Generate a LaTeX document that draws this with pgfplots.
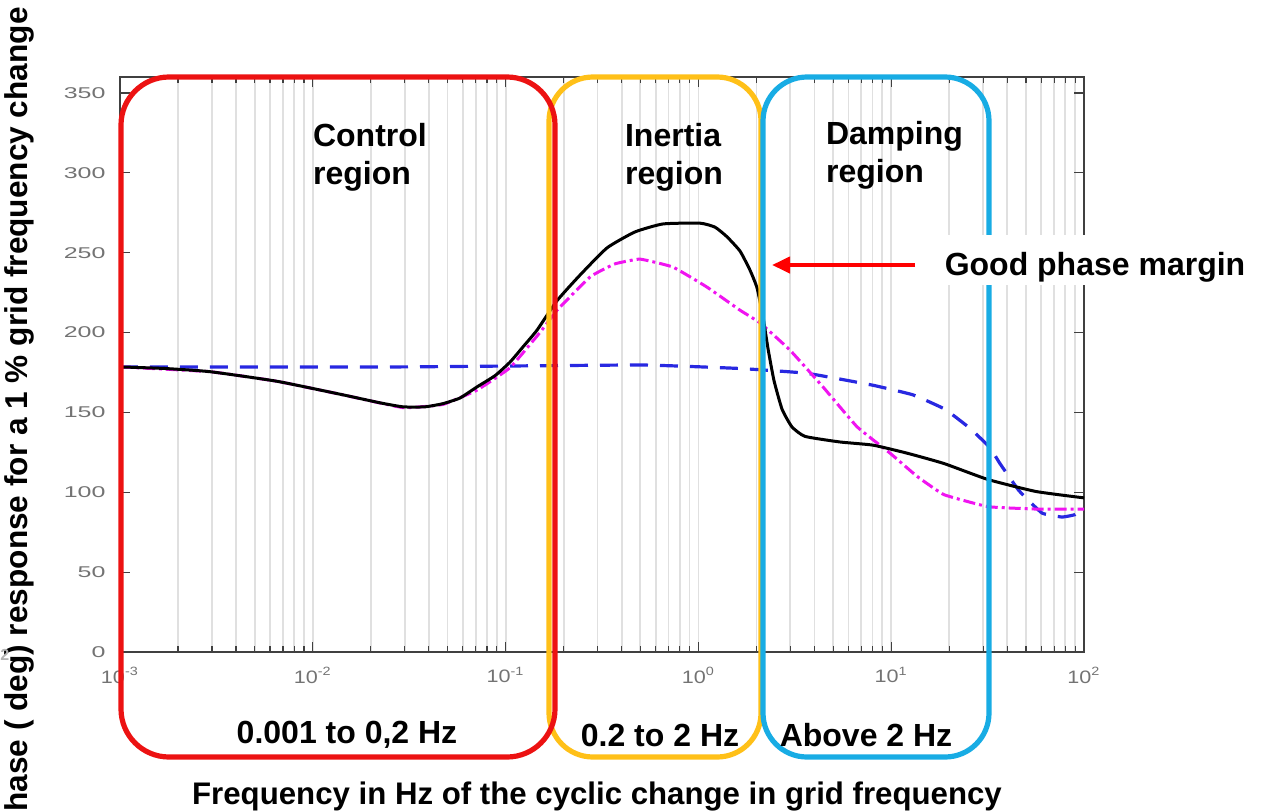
\documentclass[border=0pt]{standalone}
\usepackage{fontspec}
\setmainfont{Liberation Sans}
\usepackage{pgfplots}
\pgfplotsset{compat=1.18}
\usepackage{pgfplotstable}
\usetikzlibrary{arrows.meta}
\definecolor{boxred}{RGB}{236,18,18}
\definecolor{boxorange}{RGB}{255,192,24}
\definecolor{boxblue}{RGB}{24,172,228}
\definecolor{curveblue}{RGB}{40,40,225}
\definecolor{curvemag}{RGB}{240,20,240}

% columns: lf = log10(frequency in Hz), v = phase (deg)
\pgfplotstableread{
lf v
-3.000 178.5
-2.767 177.5
-2.533 175.5
-2.186 169.5
-1.843 161
-1.651 156
-1.532 153.5
-1.418 153.5
-1.325 155.5
-1.237 159
-1.148 166
-1.055 173
-0.977 181.5
-0.910 191
-0.837 201.5
-0.733 220
-0.614 236
-0.474 253
-0.329 263
-0.184 268
0.008 268.5
0.086 266
0.148 260
0.216 251
0.268 239
0.304 228
0.335 210
0.361 190
0.392 170
0.434 152
0.485 141
0.553 135
0.734 131.5
0.906 129.5
1.082 124.5
1.274 118
1.502 108
1.751 100.5
2.000 96.5
}\blackdata

\pgfplotstableread{
lf v
-3.000 178.5
-2.533 175.5
-2.186 169.5
-1.843 161
-1.532 153
-1.325 155
-1.148 164
-0.977 178
-0.822 200
-0.733 214
-0.560 235
-0.433 243
-0.303 246
-0.132 241
0.044 228.5
0.216 214
0.320 206
0.475 189
0.646 166
0.823 141
0.994 124.5
1.134 110
1.274 98.5
1.502 91
1.751 89.5
2.000 89.5
}\magdata

\pgfplotstableread{
lf v
-3.000 178.5
-1.548 178.5
-0.303 179.7
0.216 177.5
0.563 174.5
0.906 167
1.113 161
1.279 152
1.409 140
1.512 128
1.564 118
1.663 101
1.782 87
1.886 84.5
1.953 86
2.000 90
}\bluedata

\begin{document}
\begin{tikzpicture}
\begin{axis}[
  at={(60pt,79.5pt)}, anchor=south west,
  scale only axis, width=482pt, height=287.5pt,
  xmode=log, xmin=1e-3, xmax=1e2, ymin=0, ymax=360,
  xtick={1e-3,1e-2,1e-1,1,10,100},
  xticklabels={10\textsuperscript{-3},10\textsuperscript{-2},10\textsuperscript{-1},10\textsuperscript{0},10\textsuperscript{1},10\textsuperscript{2}},
  ytick={0,50,...,350},
  xmajorgrids, xminorgrids,
  major grid style={black!12, line width=0.9pt},
  minor grid style={black!12, line width=0.9pt},
  axis line style={black!75, line width=0.8pt},
  tick style={black!75, line width=0.6pt},
  major tick length=5pt, minor tick length=3pt,
  ticklabel style={text=black!55},
  /pgf/number format/assume math mode=true,
  xticklabel style={font=\fontsize{9}{11}\selectfont, xscale=1.2, yshift=-4pt},
  yticklabel style={font=\fontsize{7.8}{10}\selectfont, xscale=1.6, xshift=-1pt},
]
\addplot[curveblue, line width=1.6pt, dash pattern=on 9pt off 6pt, smooth, tension=0.2] table[x expr=10^(\thisrow{lf}), y=v] {\bluedata};
\addplot[curvemag, line width=1.5pt, dash pattern=on 6pt off 2pt on 1.5pt off 2pt, smooth, tension=0.2] table[x expr=10^(\thisrow{lf}), y=v] {\magdata};
\addplot[black, line width=1.5pt, smooth, tension=0.3] table[x expr=10^(\thisrow{lf}), y=v] {\blackdata};
\end{axis}

% region boxes
\draw[boxorange, line width=2.6pt, rounded corners=22pt] (274.5pt,27pt) rectangle (380.5pt,367pt);
\draw[boxred, line width=2.6pt, rounded corners=24pt] (60.5pt,27pt) rectangle (277.5pt,367pt);
\draw[boxblue, line width=2.6pt, rounded corners=22pt] (381.5pt,27pt) rectangle (494.5pt,367pt);

% annotations
\fill[white] (470pt,263pt) rectangle (631pt,288pt);
\node[font=\bfseries\fontsize{16}{19}\selectfont, align=left, anchor=west] at (153pt,327pt) {Control\\region};
\node[font=\bfseries\fontsize{16}{19}\selectfont, align=left, anchor=west] at (309pt,327pt) {Inertia\\region};
\node[font=\bfseries\fontsize{16}{19}\selectfont, align=left, anchor=west] at (409.5pt,328pt) {Damping\\region};
\node[font=\bfseries\fontsize{16}{19}\selectfont] at (547.5pt,272pt) {Good phase margin};
\draw[red, line width=2pt, -{Triangle[length=9pt,width=8pt]}] (457.5pt,273pt) -- (386pt,273pt);

\node[font=\bfseries\fontsize{16}{19}\selectfont] at (173.5pt,38pt) {0.001 to 0,2 Hz};
\node[font=\bfseries\fontsize{16}{19}\selectfont] at (330pt,38pt) {0.2 to 2 Hz};
\node[font=\bfseries\fontsize{16}{19}\selectfont] at (433pt,38pt) {Above 2 Hz};

\node[font=\bfseries\fontsize{15.6}{18}\selectfont] at (298.5pt,7.5pt) {Frequency in Hz of the cyclic change in grid frequency};
\node[font=\bfseries\fontsize{15.8}{18}\selectfont, rotate=90] at (9.5pt,195.5pt) {Phase ( deg) response for a 1 \% grid frequency change};
\node[font=\bfseries\fontsize{8}{9}\selectfont, text=black!30, anchor=west, inner sep=0pt] at (0pt,78pt) {2};

\pgfresetboundingbox
\path[use as bounding box] (0pt,0pt) rectangle (636.5pt,405.5pt);
\end{tikzpicture}
\end{document}
